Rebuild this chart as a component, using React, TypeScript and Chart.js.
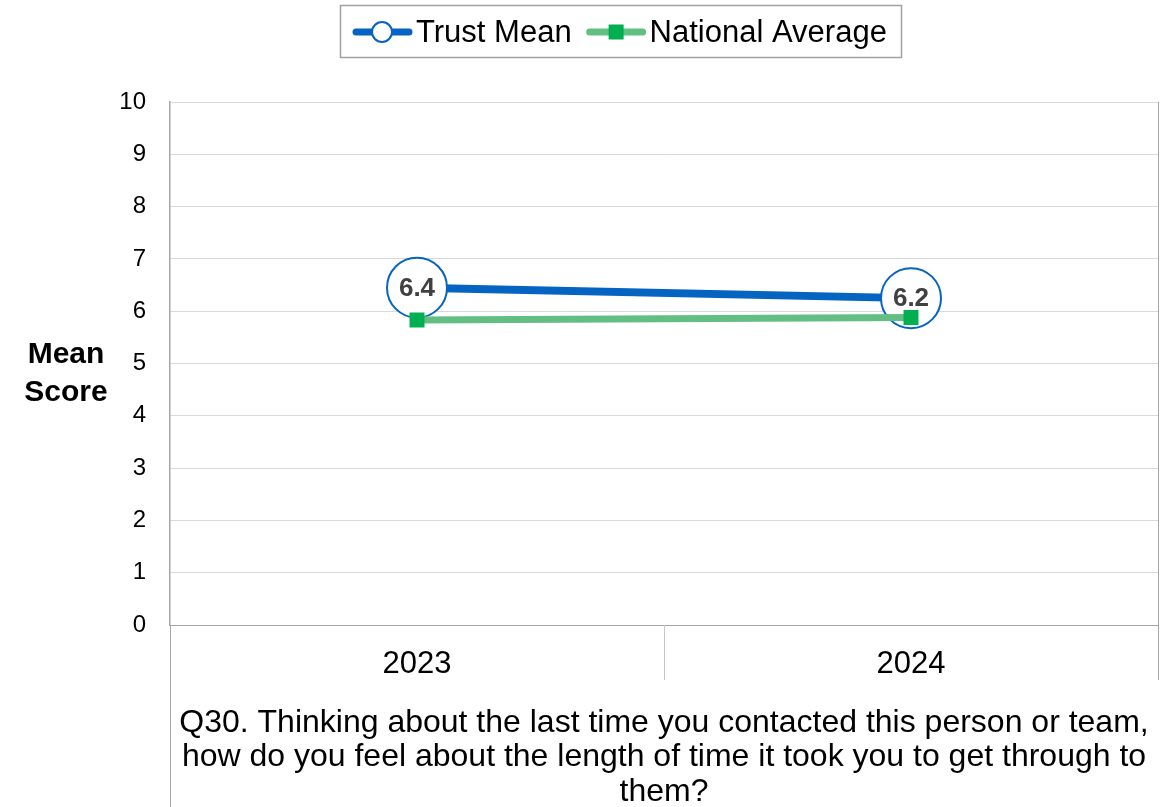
import React, { useEffect, useRef } from "react";
import { Chart, registerables } from "chart.js";

Chart.register(...registerables);

const categories = ["2023", "2024"];
const trustMean = [6.45, 6.25];
const trustMeanLabels = ["6.4", "6.2"];
const nationalAverage = [5.83, 5.88];
const seriesNames = ["Trust Mean", "National Average"];
const yMin = 0;
const yMax = 10;
const yStep = 1;
const yAxisTitle = ["Mean", "Score"];
const questionLines = [
  "Q30. Thinking about the last time you contacted this person or team,",
  "how do you feel about the length of time it took you to get through to",
  "them?",
];

const FONT = '"Liberation Sans", Arial, sans-serif';
const BLUE = "#0563C1";
const GREEN_LINE = "#63BE84";
const GREEN_MARK = "#00B050";
const AXIS_GRAY = "#A6A6A6";
const GRID_GRAY = "#D9D9D9";

const decorPlugin = {
  id: "decor",
  afterDatasetsDraw(chart: any) {
    const ctx = chart.ctx;
    const meta = chart.getDatasetMeta(0);
    ctx.save();
    ctx.font = `bold 26px ${FONT}`;
    ctx.fillStyle = "#404040";
    ctx.textAlign = "center";
    ctx.textBaseline = "middle";
    meta.data.forEach((pt: any, i: number) => {
      ctx.fillText(trustMeanLabels[i], pt.x, pt.y + 1);
    });
    ctx.restore();
  },
  afterDraw(chart: any) {
    const ctx = chart.ctx;
    const ca = chart.chartArea;
    const x = chart.scales.x;
    const H = chart.height;
    ctx.save();
    ctx.lineWidth = 1;
    ctx.strokeStyle = AXIS_GRAY;
    ctx.beginPath();
    ctx.moveTo(Math.round(ca.right) + 0.5, ca.top);
    ctx.lineTo(Math.round(ca.right) + 0.5, ca.bottom + 55);
    ctx.stroke();
    ctx.beginPath();
    ctx.moveTo(Math.round(ca.left) + 0.5, ca.bottom);
    ctx.lineTo(Math.round(ca.left) + 0.5, H);
    ctx.stroke();
    const mid = (x.getPixelForValue(0) + x.getPixelForValue(1)) / 2;
    ctx.strokeStyle = "#C8C8C8";
    ctx.beginPath();
    ctx.moveTo(Math.round(mid) + 0.5, ca.bottom);
    ctx.lineTo(Math.round(mid) + 0.5, ca.bottom + 55);
    ctx.stroke();

    ctx.fillStyle = "#000";
    ctx.font = `32px ${FONT}`;
    ctx.textAlign = "center";
    ctx.textBaseline = "middle";
    const cx = (ca.left + ca.right) / 2;
    questionLines.forEach((t, i) => {
      ctx.fillText(t, cx, ca.bottom + 98 + i * 34.5);
    });

    ctx.font = `bold 30px ${FONT}`;
    yAxisTitle.forEach((t, i) => {
      ctx.fillText(t, 66, 355 + i * 38);
    });

    const ly = 32;
    ctx.strokeStyle = "#A0A0A0";
    ctx.lineWidth = 1.5;
    ctx.strokeRect(340.5, 5.5, 561, 52);
    ctx.font = `31px ${FONT}`;
    ctx.textAlign = "left";
    ctx.lineCap = "round";
    ctx.lineWidth = 7;
    ctx.strokeStyle = BLUE;
    ctx.beginPath();
    ctx.moveTo(356, ly);
    ctx.lineTo(409, ly);
    ctx.stroke();
    ctx.beginPath();
    ctx.arc(382, ly, 10, 0, Math.PI * 2);
    ctx.fillStyle = "#fff";
    ctx.fill();
    ctx.lineWidth = 2;
    ctx.stroke();
    ctx.fillStyle = "#000";
    ctx.fillText(seriesNames[0], 416, ly + 1);
    const w1 = ctx.measureText(seriesNames[0]).width;
    const s2 = 416 + w1 + 18;
    ctx.lineWidth = 7;
    ctx.strokeStyle = GREEN_LINE;
    ctx.beginPath();
    ctx.moveTo(s2, ly);
    ctx.lineTo(s2 + 53, ly);
    ctx.stroke();
    ctx.fillStyle = GREEN_MARK;
    ctx.fillRect(s2 + 26.5 - 7.5, ly - 7.5, 15, 15);
    ctx.fillStyle = "#000";
    ctx.fillText(seriesNames[1], s2 + 60, ly + 1);
    ctx.restore();
  },
};

export default function App() {
  const ref = useRef<HTMLCanvasElement | null>(null);
  useEffect(() => {
    document.body.style.margin = "0";
    const canvas = ref.current!;
    const chart = new Chart(canvas, {
      type: "line",
      data: {
        labels: categories,
        datasets: [
          {
            label: seriesNames[0],
            data: trustMean,
            borderColor: BLUE,
            borderWidth: 8,
            pointRadius: 30,
            pointHoverRadius: 30,
            pointBackgroundColor: "#fff",
            pointBorderColor: BLUE,
            pointBorderWidth: 2,
            order: 2,
          },
          {
            label: seriesNames[1],
            data: nationalAverage,
            borderColor: GREEN_LINE,
            borderWidth: 7,
            pointStyle: "rect",
            pointRadius: 10.6,
            pointHoverRadius: 10.6,
            pointBackgroundColor: GREEN_MARK,
            pointBorderColor: GREEN_MARK,
            pointBorderWidth: 0,
            order: 1,
          },
        ],
      },
      options: {
        responsive: false,
        animation: false,
        events: [],
        layout: { autoPadding: false, padding: { left: 110, top: 102, right: 7, bottom: 0 } },
        plugins: {
          legend: { display: false },
          tooltip: { enabled: false },
        },
        scales: {
          x: {
            offset: true,
            grid: { display: false, drawTicks: false },
            border: { display: true, color: AXIS_GRAY, width: 1 },
            ticks: {
              color: "#000",
              font: { family: FONT, size: 31 },
              padding: 21,
              maxRotation: 0,
            },
            afterFit: (s: any) => {
              s.height = 182;
              s.paddingLeft = 0;
              s.paddingRight = 0;
            },
          },
          y: {
            min: yMin,
            max: yMax,
            grid: { color: GRID_GRAY, lineWidth: 1, drawTicks: false },
            border: { display: true, color: AXIS_GRAY, width: 1.5 },
            ticks: {
              stepSize: yStep,
              color: "#000",
              font: { family: FONT, size: 24 },
              padding: 24,
            },
            afterFit: (s: any) => {
              s.width = 60;
              s.paddingTop = 0;
              s.paddingBottom = 0;
            },
          },
        },
      },
      plugins: [decorPlugin],
    });
    return () => chart.destroy();
  }, []);
  return (
    <canvas
      ref={ref}
      width={1165}
      height={807}
      style={{ display: "block", width: 1165, height: 807 }}
    />
  );
}
